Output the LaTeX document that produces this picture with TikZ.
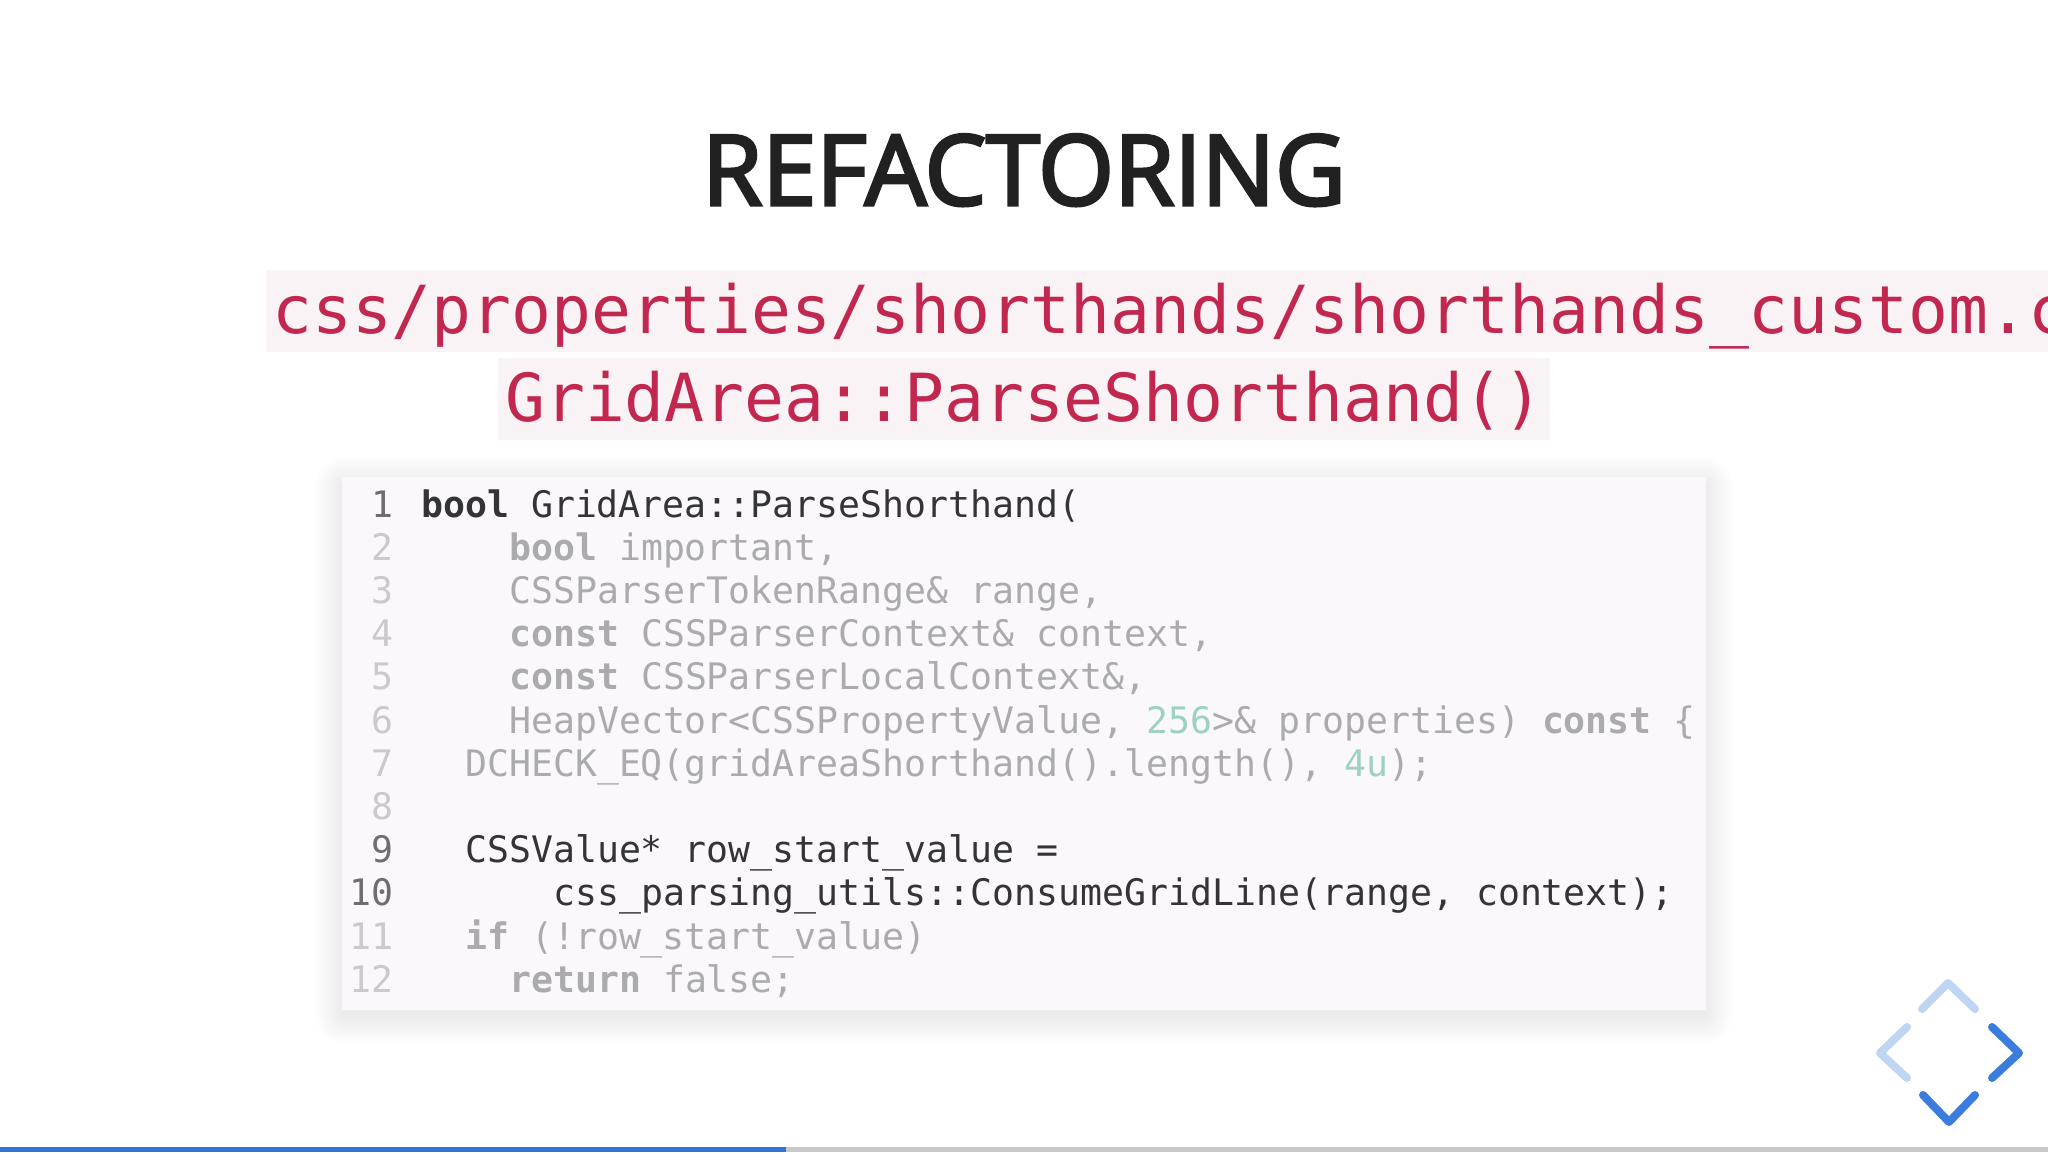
\documentclass[tikz,border=0pt]{standalone}
\usepackage{fontspec}
\setmonofont{DejaVu Sans Mono}
\newfontfamily\titlefont[FakeBold=3.2]{Open Sans}
\usepackage{tikz}
\definecolor{rubine}{HTML}{C2274F}
\definecolor{chipbg}{HTML}{F9F3F5}
\definecolor{panelbg}{HTML}{FAF8FA}
\definecolor{codedark}{HTML}{333338}
\definecolor{codedim}{HTML}{ABABAF}
\definecolor{numdim}{HTML}{CACACC}
\definecolor{numdark}{HTML}{6E6E72}
\definecolor{tealdim}{HTML}{9DD2C2}
\definecolor{navblue}{HTML}{3B7DDD}
\definecolor{navpale}{HTML}{C0D5F3}
\definecolor{barblue}{HTML}{2F74D0}
\definecolor{bargray}{HTML}{C9C9C9}

\begin{document}
\begin{tikzpicture}[x=1pt,y=-1pt]

\tikzset{
    headline/.style={anchor=base west,inner sep=0pt,text=rubine,font=\ttfamily\fontsize{66.3}{66}\selectfont},
    codeline/.style={anchor=base west,inner sep=0pt,text=codedim,font=\ttfamily\fontsize{36.5}{37}\selectfont},
    numline/.style={anchor=base east,inner sep=0pt,text=numdim,font=\ttfamily\fontsize{36.5}{37}\selectfont},
    chevron/.style={line width=8pt,line cap=round,line join=round}
}
\clip (0,0) rectangle (2048,1152);
\fill[white] (0,0) rectangle (2048,1152);

\node[anchor=base,inner sep=0pt,text=black!87,font=\titlefont\fontsize{97.5}{98}\selectfont] (title) at (1024,205) {REFACTORING};

\fill[chipbg] (266,270) rectangle (2048,352);
\fill[chipbg] (498,358) rectangle (1550,440);
\node[headline] (path) at (272,333) {css/properties/shorthands/shorthands\_custom.c};
\node[headline] (method) at (505,421) {GridArea::ParseShorthand()};

% soft shadow under the panel
\foreach \s in {30,27,...,3}
    \fill[black,opacity=.006,rounded corners=\s pt] (342-\s+3,477-\s+10) rectangle (1706+\s-3,1010+\s+4);
\fill[panelbg] (342,477) rectangle (1706,1010);

\foreach \n/\c in {1/numdark,2/numdim,3/numdim,4/numdim,5/numdim,6/numdim,7/numdim,8/numdim,9/numdark,10/numdark,11/numdim,12/numdim}
    \node[numline,text=\c] (num\n) at (394,517+43.2*\n-43.2) {\n};

\node[codeline,text=codedark] (line1) at (421,517) {\textbf{bool} GridArea::ParseShorthand(};
\node[codeline] (line2) at (509,560.2) {\textbf{bool} important,};
\node[codeline] (line3) at (509,603.4) {CSSParserTokenRange\& range,};
\node[codeline] (line4) at (509,646.6) {\textbf{const} CSSParserContext\& context,};
\node[codeline] (line5) at (509,689.8) {\textbf{const} CSSParserLocalContext\&,};
\node[codeline] (line6) at (509,733) {HeapVector<CSSPropertyValue, \textcolor{tealdim}{256}>\& properties) \textbf{const} \{};
\node[codeline] (line7) at (465,776.2) {DCHECK\_EQ(gridAreaShorthand().length(), \textcolor{tealdim}{4u});};
\node[codeline,text=codedark] (line9) at (465,862.6) {CSSValue* row\_start\_value =};
\node[codeline,text=codedark] (line10) at (553,905.8) {css\_parsing\_utils::ConsumeGridLine(range, context);};
\node[codeline] (line11) at (465,949) {\textbf{if} (!row\_start\_value)};
\node[codeline] (line12) at (509,992.2) {\textbf{return} false;};

\draw[chevron,navpale] (1922,1009) -- (1948,983) -- (1975,1009);
\draw[chevron,navpale] (1907,1027) -- (1880,1053) -- (1907,1078);
\draw[chevron,navblue] (1992,1027) -- (2019,1053) -- (1992,1078);
\draw[chevron,navblue] (1923,1095) -- (1949,1122) -- (1975,1095);

\fill[bargray] (786,1147) rectangle (2048,1152);
\fill[barblue] (0,1147) rectangle (786,1152);
\end{tikzpicture}
\end{document}
